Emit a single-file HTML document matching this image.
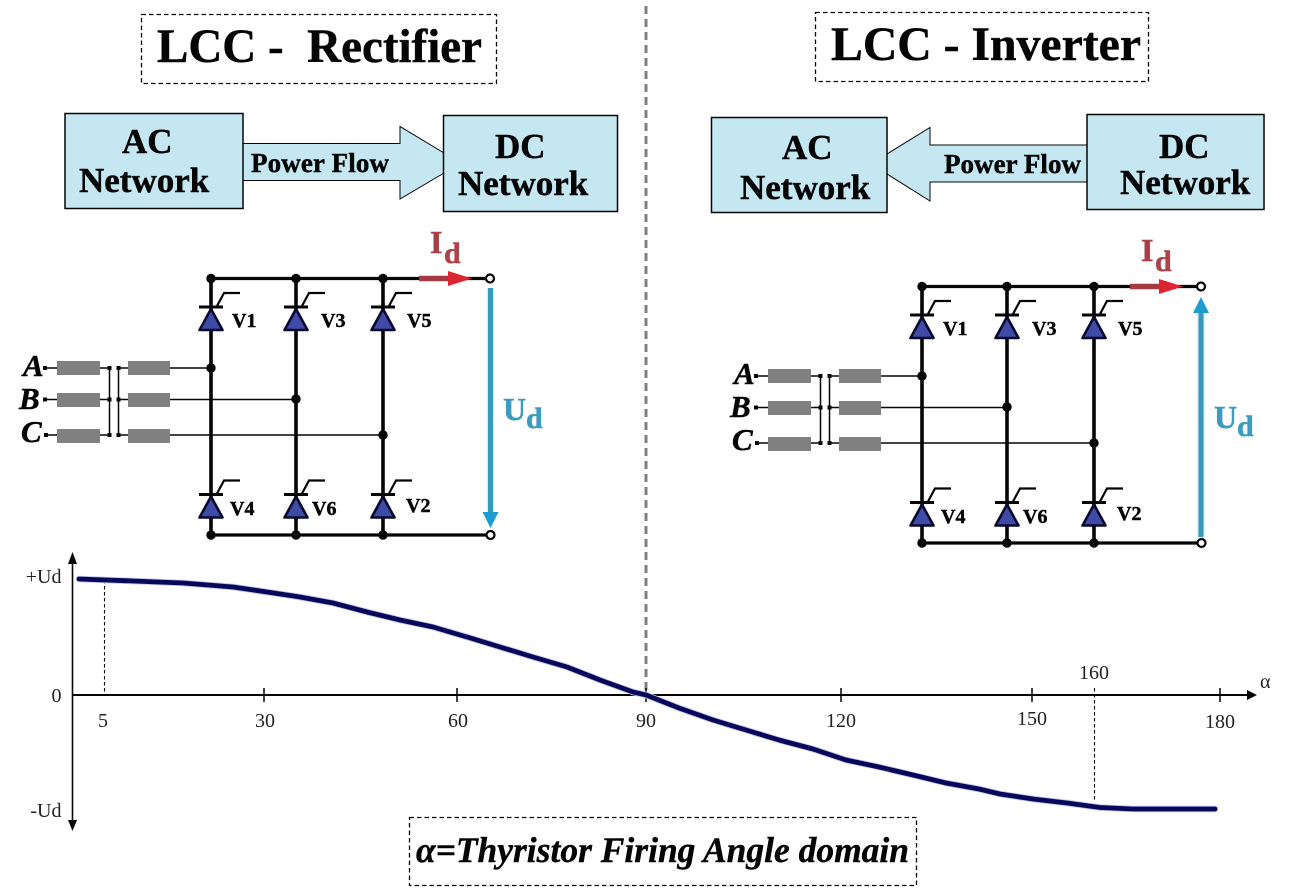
<!DOCTYPE html>
<html>
<head>
<meta charset="utf-8">
<style>
html,body{margin:0;padding:0;background:#fff;width:1304px;height:896px;overflow:hidden}
svg{display:block}
text{font-family:"Liberation Serif",serif}
.b{font-weight:bold;fill:#050505;stroke:#050505;stroke-width:.45px}
.t{fill:#222;font-size:20px}
.s{stroke-width:.5px}
</style>
</head>
<body>
<svg width="1304" height="896" viewBox="0 0 1304 896" xmlns="http://www.w3.org/2000/svg">
<defs>
<g id="thy">
  <path d="M6 -1L13 -14L29 -14" fill="none" stroke="#050505" stroke-width="2.200"/>
  <path d="M-12 0H12" stroke="#050505" stroke-width="3"/>
  <path d="M0 2L11.500 23H-11.500Z" fill="#3f4ba6" stroke="#0a0a2e" stroke-width="2.600" stroke-linejoin="round"/>
</g>
<g id="cir">
  <g stroke="#050505" fill="none">
    <path d="M211 278.500H486M211 535H486" stroke-width="3.200"/>
    <path d="M211 278.500V535M296 278.500V535M383 278.500V535" stroke-width="3.600"/>
    <path d="M170 368H211M170 399.500H296M170 435H383M44 368H57M44 399.500H57M45 435H57" stroke-width="1.500"/>
    <path d="M109.500 368V435M118.500 368V435M100 368H109.500M100 399.500H109.500M100 435H109.500M118.500 368H128M118.500 399.500H128M118.500 435H128" stroke-width="1.500"/>
  </g>
  <g fill="#808080">
    <rect x="57" y="361" width="43" height="14"/><rect x="57" y="393" width="43" height="14"/><rect x="57" y="429" width="43" height="14"/>
    <rect x="128" y="361" width="42" height="14"/><rect x="128" y="393" width="42" height="14"/><rect x="128" y="429" width="42" height="14"/>
  </g>
  <g fill="#050505">
    <rect x="43" y="366" width="4" height="4"/><rect x="43" y="397.500" width="4" height="4"/><rect x="44" y="433" width="4" height="4"/>
    <rect x="107.500" y="366" width="4" height="4"/><rect x="107.500" y="397.500" width="4" height="4"/><rect x="107.500" y="433" width="4" height="4"/>
    <rect x="116.500" y="366" width="4" height="4"/><rect x="116.500" y="397.500" width="4" height="4"/><rect x="116.500" y="433" width="4" height="4"/>
    <circle cx="211" cy="278.500" r="4.700"/><circle cx="296" cy="278.500" r="4.700"/><circle cx="383" cy="278.500" r="4.700"/>
    <circle cx="211" cy="535" r="4.700"/><circle cx="296" cy="535" r="4.700"/><circle cx="383" cy="535" r="4.700"/>
    <circle cx="211" cy="368" r="4.700"/><circle cx="296" cy="399" r="4.700"/><circle cx="383" cy="435" r="4.700"/>
  </g>
  <use href="#thy" x="211" y="307"/><use href="#thy" x="296" y="307"/><use href="#thy" x="383" y="307"/>
  <use href="#thy" x="211" y="494.500"/><use href="#thy" x="296" y="494.500"/><use href="#thy" x="383" y="494.500"/>
  <circle cx="490" cy="278.500" r="4" fill="#fff" stroke="#050505" stroke-width="2.200"/>
  <circle cx="490.500" cy="535" r="4" fill="#fff" stroke="#050505" stroke-width="2.200"/>
  <path d="M419 278.500H450" stroke="#a63a42" stroke-width="5.500"/>
  <path d="M448 271L472 278.500L448 286Z" fill="#dc2530"/>
</g>
</defs>

<!-- center divider -->
<path d="M646 6V695" stroke="#808080" stroke-width="3" stroke-dasharray="8 5"/>

<!-- titles -->
<rect x="141.500" y="14.500" width="355" height="69" fill="none" stroke="#050505" stroke-width="1.300" stroke-dasharray="4.500 3"/>
<text class="b" x="157" y="62" font-size="48" textLength="325" lengthAdjust="spacingAndGlyphs" xml:space="preserve">LCC -  Rectifier</text>
<rect x="815.500" y="12.500" width="333" height="69" fill="none" stroke="#050505" stroke-width="1.300" stroke-dasharray="4.500 3"/>
<text class="b" x="831" y="60" font-size="48" textLength="310" lengthAdjust="spacingAndGlyphs">LCC - Inverter</text>

<!-- left blocks -->
<path d="M243 143.500H400V126.500L444 153V173L400 199V180.500H243Z" fill="#c5e7f2" stroke="#050505" stroke-width="1"/>
<rect x="65" y="113.500" width="178" height="95" fill="#c5e7f2" stroke="#050505" stroke-width="1.500"/>
<rect x="443.500" y="115.500" width="174" height="96" fill="#c5e7f2" stroke="#050505" stroke-width="1.500"/>
<text class="b" x="122" y="153" font-size="35">AC</text>
<text class="b" x="79" y="192" font-size="35">Network</text>
<text class="b" x="495" y="158" font-size="35">DC</text>
<text class="b" x="458" y="195" font-size="35">Network</text>
<text class="b" x="251" y="172" font-size="27" textLength="138" lengthAdjust="spacing">Power Flow</text>

<!-- right blocks -->
<path d="M1087 145H930V127.500L887 154V174L930 201V182H1087Z" fill="#c5e7f2" stroke="#050505" stroke-width="1"/>
<rect x="711.500" y="117.500" width="175.500" height="95" fill="#c5e7f2" stroke="#050505" stroke-width="1.500"/>
<rect x="1087" y="114.500" width="177" height="95" fill="#c5e7f2" stroke="#050505" stroke-width="1.500"/>
<text class="b" x="782" y="159" font-size="35">AC</text>
<text class="b" x="740" y="199" font-size="35">Network</text>
<text class="b" x="1159" y="158" font-size="35">DC</text>
<text class="b" x="1120" y="194" font-size="35">Network</text>
<text class="b" x="944" y="173" font-size="27" textLength="137" lengthAdjust="spacing">Power Flow</text>

<!-- left circuit -->
<use href="#cir"/>
<path d="M490.500 288V514" stroke="#cdeff7" stroke-width="7.500"/>
<path d="M490.500 288V514" stroke="#3a98b8" stroke-width="5"/>
<path d="M482.500 512H498.500L490.500 528Z" fill="#1f9ccf"/>
<text class="b" font-size="20" x="232" y="327">V1</text><text class="b" font-size="20" x="321" y="327">V3</text><text class="b" font-size="20" x="407" y="327">V5</text>
<text class="b" font-size="20" x="230" y="515">V4</text><text class="b" font-size="20" x="312" y="515">V6</text><text class="b" font-size="20" x="406" y="512">V2</text>
<g font-size="31" font-weight="bold" font-style="italic" fill="#050505" stroke="#050505" stroke-width=".5">
<text x="23" y="376">A</text><text x="19" y="409">B</text><text x="21" y="442">C</text>
</g>
<text class="s" x="430" y="253" font-size="32" font-weight="bold" fill="#a93f44" stroke="#a93f44">I</text>
<text class="s" x="444" y="263" font-size="30" font-weight="bold" fill="#b04349" stroke="#b04349">d</text>
<text class="s" x="503" y="420" font-size="32" font-weight="bold" fill="#3c9cbf" stroke="#3c9cbf">U</text>
<text class="s" x="526" y="428" font-size="30" font-weight="bold" fill="#3c9cbf" stroke="#3c9cbf">d</text>

<!-- right circuit -->
<g transform="translate(711 8)"><use href="#cir"/></g>
<path d="M1201 537V311" stroke="#cdeff7" stroke-width="7.500"/>
<path d="M1201 537V311" stroke="#3a98b8" stroke-width="5"/>
<path d="M1193 313H1209L1201 297Z" fill="#1f9ccf"/>
<text class="b" font-size="20" x="943" y="335">V1</text><text class="b" font-size="20" x="1032" y="335">V3</text><text class="b" font-size="20" x="1118" y="335">V5</text>
<text class="b" font-size="20" x="941" y="523">V4</text><text class="b" font-size="20" x="1023" y="523">V6</text><text class="b" font-size="20" x="1117" y="520">V2</text>
<g font-size="31" font-weight="bold" font-style="italic" fill="#050505" stroke="#050505" stroke-width=".5">
<text x="734" y="384">A</text><text x="730" y="417">B</text><text x="732" y="450">C</text>
</g>
<text class="s" x="1141" y="261" font-size="32" font-weight="bold" fill="#a93f44" stroke="#a93f44">I</text>
<text class="s" x="1155" y="271" font-size="30" font-weight="bold" fill="#b04349" stroke="#b04349">d</text>
<text class="s" x="1214" y="428" font-size="32" font-weight="bold" fill="#3c9cbf" stroke="#3c9cbf">U</text>
<text class="s" x="1237" y="436" font-size="30" font-weight="bold" fill="#3c9cbf" stroke="#3c9cbf">d</text>

<!-- graph axes -->
<path d="M72.500 560V824" stroke="#050505" stroke-width="1.600"/>
<path d="M72.500 552L77 564H68Z M72.500 831L77 820H68Z" fill="#050505"/>
<path d="M72 695H1250" stroke="#050505" stroke-width="2"/>
<path d="M1257 695L1247 690V700Z" fill="#050505"/>
<path d="M264 688V702M457 688V702M646 688V702M841 688V702M1032 688V702M1220 688V702" stroke="#050505" stroke-width="1.500"/>
<path d="M104.500 580V695M1094.500 688V801" stroke="#050505" stroke-width="1.100" stroke-dasharray="3.500 2.500"/>

<!-- curve -->
<polyline fill="none" stroke="#c4c4ee" stroke-width="6.500" stroke-linecap="round" stroke-linejoin="round" points="79,579 133,581 183,583 233,587 267,592 300,597 333,603 367,612 400,620 433,627 467,637 500,647 533,657 567,667 600,680 633,692 646,695 679,708 713,720 746,730 779,740 813,749 846,760 879,767 913,775 946,783 979,789 1000,794 1033,799 1067,803 1100,807.500 1133,809 1170,809 1215,809"/>
<polyline fill="none" stroke="#08085a" stroke-width="4.800" stroke-linecap="round" stroke-linejoin="round" points="79,579 133,581 183,583 233,587 267,592 300,597 333,603 367,612 400,620 433,627 467,637 500,647 533,657 567,667 600,680 633,692 646,695 679,708 713,720 746,730 779,740 813,749 846,760 879,767 913,775 946,783 979,789 1000,794 1033,799 1067,803 1100,807.500 1133,809 1170,809 1215,809"/>

<!-- graph labels -->
<text class="t" x="61.500" y="583" text-anchor="end">+Ud</text>
<text class="t" x="61.500" y="702" text-anchor="end">0</text>
<text class="t" x="61.500" y="817" text-anchor="end">-Ud</text>
<text class="t" x="103" y="727" text-anchor="middle">5</text>
<text class="t" x="265" y="727" text-anchor="middle">30</text>
<text class="t" x="458" y="727" text-anchor="middle">60</text>
<text class="t" x="646" y="727" text-anchor="middle">90</text>
<text class="t" x="841" y="727" text-anchor="middle">120</text>
<text class="t" x="1032" y="725" text-anchor="middle">150</text>
<text class="t" x="1220" y="728" text-anchor="middle">180</text>
<text class="t" x="1094" y="679" text-anchor="middle">160</text>
<text class="t" x="1260" y="688">α</text>

<!-- bottom caption -->
<rect x="409.500" y="817.500" width="507" height="68" fill="none" stroke="#050505" stroke-width="1.300" stroke-dasharray="4.500 3"/>
<text x="416" y="862" font-size="36" font-weight="bold" font-style="italic" fill="#050505" stroke="#050505" stroke-width=".4" textLength="493" lengthAdjust="spacingAndGlyphs">α=Thyristor Firing Angle domain</text>
</svg>
</body>
</html>
